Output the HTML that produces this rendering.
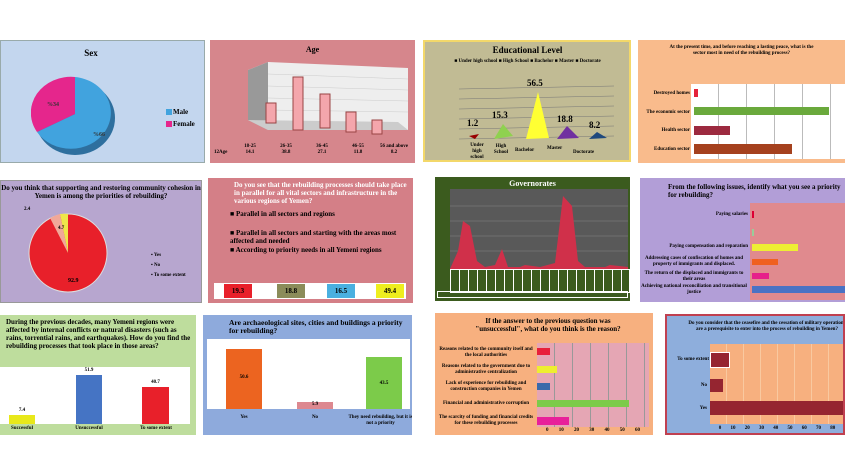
<!DOCTYPE html><html><head><style>
body{margin:0;width:845px;height:475px;background:#fff;position:relative;overflow:hidden;font-family:"Liberation Serif",serif;font-weight:bold}
.p{position:absolute;box-sizing:border-box;overflow:hidden}
.a{position:absolute}
.t{position:absolute;font-size:7px;line-height:8px;text-align:center}
.s{font-size:5px;line-height:6px}
.row{position:absolute;display:flex;font-size:5px;line-height:6px}
.row span{flex:1;text-align:center}
</style></head><body>

<!-- Sex -->
<div class="p" style="left:0;top:40px;width:205px;height:123px;background:#c3d6ee;border:1px solid #9aa">
<div class="t" style="left:0;width:180px;top:8px;font-size:9px">Sex</div>
<svg class="a" style="left:30px;top:35px" width="90" height="82"><ellipse cx="44" cy="42" rx="40" ry="37" fill="#2e6f9e"/><path d="M44,38 L44,1 A40,36 0 1 1 6,56 Z" fill="#41a3de"/><path d="M44,38 L6,56 A40,36 0 0 1 44,1 Z" fill="#e5268c"/>
<text x="16" y="30" font-size="6" fill="#333">%34</text><text x="62" y="60" font-size="6" fill="#333">%66</text></svg>
<div class="a" style="left:165px;top:68px;width:6px;height:6px;background:#41a3de"></div><div class="t" style="left:172px;top:67px;text-align:left">Male</div>
<div class="a" style="left:165px;top:80px;width:6px;height:6px;background:#e5268c"></div><div class="t" style="left:172px;top:79px;text-align:left">Female</div>
</div>

<!-- Age -->
<div class="p" style="left:210px;top:40px;width:205px;height:123px;background:#d6868c">
<div class="t" style="left:0;width:205px;top:6px;font-size:8px">Age</div>
<svg class="a" style="left:28px;top:20px" width="175" height="78"><polygon points="10,10 30,2 170,8 170,70 30,70 10,60" fill="#eee"/><polygon points="10,10 30,2 30,70 10,60" fill="#999"/><polygon points="10,60 30,70 170,70 160,62" fill="#ccc"/>
<g stroke="#ccc" stroke-width=".5"><line x1="30" y1="14" x2="170" y2="19"/><line x1="30" y1="26" x2="170" y2="30"/><line x1="30" y1="38" x2="170" y2="41"/><line x1="30" y1="50" x2="170" y2="52"/></g>
<g fill="#f4a6ac" stroke="#944"><rect x="28" y="43" width="10" height="20"/><rect x="55" y="17" width="10" height="53"/><rect x="82" y="34" width="10" height="34"/><rect x="108" y="52" width="10" height="20"/><rect x="134" y="60" width="10" height="14"/></g></svg>
<div class="row" style="left:22px;width:180px;top:104px"><span>18-25</span><span>26-35</span><span>36-45</span><span>46-55</span><span>56 and above</span></div>
<div class="row" style="left:22px;width:180px;top:110px"><span>14.1</span><span>38.8</span><span>27.1</span><span>11.8</span><span>8.2</span></div>
<div class="t s" style="left:4px;top:110px">12Age</div>
</div>

<!-- Educational -->
<div class="p" style="left:423px;top:40px;width:208px;height:122px;background:#c1bb94;border:2px solid #f3d86a">
<div class="t" style="left:0;width:205px;top:4px;font-size:9px">Educational Level</div>
<div class="t s" style="left:0;width:205px;top:17px">■ Under high school ■ High School ■ Bachelor ■ Master ■ Doctorate</div>
<svg class="a" style="left:14px;top:22px" width="190" height="95"><g stroke="#777" stroke-width=".5"><line x1="20" y1="25" x2="175" y2="22"/><line x1="20" y1="35" x2="175" y2="32"/><line x1="20" y1="45" x2="175" y2="42"/><line x1="20" y1="55" x2="175" y2="52"/><line x1="20" y1="65" x2="175" y2="62"/><line x1="20" y1="75" x2="175" y2="72"/></g>
<polygon points="30,72 40,70 36,75" fill="#900"/><polygon points="55,75 64,60 74,72" fill="#8fd14f"/><polygon points="87,75 99,28 110,74" fill="#ffff33"/><polygon points="118,75 128,62 140,74" fill="#7030a0"/><polygon points="150,75 158,68 168,74" fill="#1f497d"/>
<text x="28" y="62" font-size="9">1.2</text><text x="53" y="54" font-size="9">15.3</text><text x="88" y="22" font-size="9">56.5</text><text x="118" y="58" font-size="9">18.8</text><text x="150" y="64" font-size="9">8.2</text></svg>
<div class="t s" style="left:40px;top:101px;width:24px">Under high school</div><div class="t s" style="left:66px;top:102px;width:20px">High School</div><div class="t s" style="left:90px;top:106px">Bachelor</div><div class="t s" style="left:122px;top:104px">Master</div><div class="t s" style="left:148px;top:108px">Doctorate</div>
</div>

<!-- Sector -->
<div class="p" style="left:638px;top:40px;width:207px;height:123px;background:#f9bb8c">
<div class="t s" style="left:0;width:207px;top:5px">At the present time, and before reaching a lasting peace, what is the<br>sector most in need of the rebuilding process?</div>
<div class="a" style="left:53px;top:44px;width:154px;height:75px;background:#fff;background-image:repeating-linear-gradient(90deg,transparent 0 27px,#bbb 27px 28px)"></div>
<div class="a" style="left:56px;top:49px;width:4px;height:8px;background:#e5233a"></div>
<div class="a" style="left:56px;top:67px;width:135px;height:8px;background:#6aa93c"></div>
<div class="a" style="left:56px;top:86px;width:36px;height:9px;background:#9c2a3f"></div>
<div class="a" style="left:56px;top:104px;width:98px;height:10px;background:#a5411e"></div>
<div class="t s" style="left:0;width:52px;top:51px;text-align:right">Destroyed homes</div>
<div class="t s" style="left:0;width:52px;top:70px;text-align:right">The economic sector</div>
<div class="t s" style="left:0;width:52px;top:88px;text-align:right">Health sector</div>
<div class="t s" style="left:0;width:52px;top:107px;text-align:right">Education sector</div>
</div>

<!-- Cohesion -->
<div class="p" style="left:0;top:180px;width:202px;height:123px;background:#b7a6cf;border:1px solid #999">
<div class="t" style="left:0;width:200px;top:3px">Do you think that supporting and restoring community cohesion in Yemen is among the priorities of rebuilding?</div>
<svg class="a" style="left:27px;top:29px" width="80" height="85"><circle cx="40" cy="43" r="39" fill="#e8202a" stroke="#ddd"/><path d="M40,43 L32,4 A39,39 0 0 1 40,4Z" fill="#eee64a"/><path d="M40,43 L22,8 A39,39 0 0 1 32,4Z" fill="#f1a899"/><text x="40" y="72" font-size="6">92.9</text></svg>
<div class="t s" style="left:23px;top:26px">2.4</div><div class="t s" style="left:57px;top:45px">4.7</div>
<div class="t s" style="left:150px;top:72px;text-align:left">▪ Yes</div><div class="t s" style="left:150px;top:82px;text-align:left">▪ No</div><div class="t s" style="left:150px;top:92px;text-align:left">▪ To some extent</div>
</div>

<!-- Parallel -->
<div class="p" style="left:208px;top:178px;width:205px;height:125px;background:#d47f87">
<div class="t" style="left:26px;top:3px;width:175px;text-align:left;color:#fff">Do you see that the rebuilding processes should take place in parallel for all vital sectors and infrastructure in the various regions of Yemen?</div>
<div class="t" style="left:22px;top:32px;text-align:left">■ Parallel in all sectors and regions</div>
<div class="t" style="left:22px;top:51px;text-align:left;width:180px">■ Parallel in all sectors and starting with the areas most affected and needed</div>
<div class="t" style="left:22px;top:68px;text-align:left">■ According to priority needs in all Yemeni regions</div>
<div class="a" style="left:6px;top:105px;width:192px;height:16px;background:#fff"></div>
<div class="t" style="left:16px;top:106px;width:28px;height:14px;line-height:14px;background:#e8202a">19.3</div>
<div class="t" style="left:69px;top:106px;width:28px;height:14px;line-height:14px;background:#8b8c5a">18.8</div>
<div class="t" style="left:119px;top:106px;width:28px;height:14px;line-height:14px;background:#4ab0e0">16.5</div>
<div class="t" style="left:168px;top:106px;width:28px;height:14px;line-height:14px;background:#eeee1e">49.4</div>
</div>

<!-- Governorates -->
<div class="p" style="left:435px;top:177px;width:195px;height:124px;background:#3b5b1e">
<div class="t" style="left:0;width:195px;top:3px;color:#fff;font-size:8px">Governorates</div>
<div class="a" style="left:15px;top:12px;width:178px;height:92px;background:#595959"></div>
<svg class="a" style="left:15px;top:14px" width="178" height="78"><g stroke="#888" stroke-width=".5"><line x1="0" y1="15" x2="178" y2="15"/><line x1="0" y1="30" x2="178" y2="30"/><line x1="0" y1="45" x2="178" y2="45"/><line x1="0" y1="60" x2="178" y2="60"/></g><path d="M0,78 L8,60 L13,30 L20,35 L27,70 L35,76 L45,74 L52,58 L58,76 L70,76 L75,74 L90,76 L105,72 L113,5 L122,15 L128,70 L135,76 L155,76 L160,74 L178,76 L178,78Z" fill="#d0304a"/></svg>
<div class="a" style="left:15px;top:92px;width:178px;height:22px;border:1px solid #fff;background:repeating-linear-gradient(90deg,#3b5b1e 0 8px,#fff 8px 9px)"></div>
<div class="a" style="left:2px;top:114px;width:191px;height:7px;border:1px solid #fff;box-sizing:border-box"></div>
</div>

<!-- Priority -->
<div class="p" style="left:640px;top:178px;width:205px;height:124px;background:#b29ed7">
<div class="t" style="left:28px;top:5px;width:175px;text-align:left">From the following issues, identify what you see a priority for rebuilding?</div>
<div class="a" style="left:110px;top:25px;width:95px;height:97px;background:#e08a8e"></div>
<div class="a" style="left:112px;top:33px;width:2px;height:7px;background:#d03"></div>
<div class="a" style="left:112px;top:51px;width:2px;height:7px;background:#9c9"></div>
<div class="a" style="left:112px;top:66px;width:46px;height:7px;background:#ee3"></div>
<div class="a" style="left:112px;top:81px;width:26px;height:6px;background:#f06020"></div>
<div class="a" style="left:112px;top:95px;width:17px;height:6px;background:#e6208a"></div>
<div class="a" style="left:112px;top:108px;width:93px;height:7px;background:#4a72c4"></div>
<div class="t s" style="left:0;width:108px;top:34px;text-align:right">Paying salaries</div>
<div class="t s" style="left:0;width:108px;top:66px;text-align:right">Paying compensation and reparation</div>
<div class="t s" style="left:0;width:108px;top:78px">Addressing cases of confiscation of homes and property of immigrants and displaced.</div>
<div class="t s" style="left:0;width:108px;top:93px">The return of the displaced and immigrants to their areas</div>
<div class="t s" style="left:0;width:108px;top:106px">Achieving national reconciliation and transitional justice</div>
</div>

<!-- Decades -->
<div class="p" style="left:0;top:315px;width:196px;height:120px;background:#bedd9d">
<div class="t" style="left:6px;top:3px;width:185px;text-align:left">During the previous decades, many Yemeni regions were affected by internal conflicts or natural disasters (such as rains, torrential rains, and earthquakes). How do you find the rebuilding processes that took place in those areas?</div>
<div class="a" style="left:0;top:52px;width:190px;height:57px;background:#fff"></div>
<div class="a" style="left:9px;top:100px;width:26px;height:9px;background:#e8e81a"></div>
<div class="a" style="left:76px;top:60px;width:26px;height:49px;background:#4574c4"></div>
<div class="a" style="left:142px;top:72px;width:27px;height:37px;background:#e8202a"></div>
<div class="t s" style="left:9px;width:26px;top:93px">7.4</div><div class="t s" style="left:76px;width:26px;top:53px">51.9</div><div class="t s" style="left:142px;width:27px;top:65px">40.7</div>
<div class="t s" style="left:0;width:44px;top:111px">Successful</div><div class="t s" style="left:66px;width:46px;top:111px">Unsuccessful</div><div class="t s" style="left:132px;width:48px;top:111px">To some extent</div>
</div>

<!-- Archaeo -->
<div class="p" style="left:203px;top:315px;width:209px;height:120px;background:#8eaadc">
<div class="t" style="left:26px;top:4px;width:180px;text-align:left;font-size:7.5px">Are archaeological sites, cities and buildings a priority for rebuilding?</div>
<div class="a" style="left:4px;top:24px;width:203px;height:70px;background:#fff"></div>
<div class="a" style="left:23px;top:34px;width:36px;height:60px;background:#ec6420"></div>
<div class="a" style="left:94px;top:87px;width:36px;height:7px;background:#dd8890"></div>
<div class="a" style="left:163px;top:42px;width:36px;height:52px;background:#7ccb4a"></div>
<div class="t s" style="left:23px;width:36px;top:60px">50.6</div><div class="t s" style="left:94px;width:36px;top:87px">5.9</div><div class="t s" style="left:163px;width:36px;top:66px">43.5</div>
<div class="t s" style="left:23px;width:36px;top:100px">Yes</div><div class="t s" style="left:94px;width:36px;top:100px">No</div><div class="t s" style="left:145px;width:65px;top:100px">They need rebuilding, but it is not a priority</div>
</div>

<!-- Unsuccessful -->
<div class="p" style="left:435px;top:313px;width:218px;height:122px;background:#f7b07f">
<div class="t" style="left:28px;top:4px;width:170px">If the answer to the previous question was "unsuccessful", what do you think is the reason?</div>
<div class="a" style="left:102px;top:30px;width:112px;height:84px;background:#e5a6b4;background-image:repeating-linear-gradient(90deg,transparent 0 17px,#999 17px 18px)"></div>
<div class="a" style="left:102px;top:35px;width:13px;height:7px;background:#e8203a"></div>
<div class="a" style="left:102px;top:53px;width:20px;height:7px;background:#eeee30"></div>
<div class="a" style="left:102px;top:70px;width:13px;height:7px;background:#3a6aaa"></div>
<div class="a" style="left:102px;top:87px;width:92px;height:7px;background:#7ccb4a"></div>
<div class="a" style="left:102px;top:104px;width:32px;height:8px;background:#e8209a"></div>
<div class="t s" style="left:2px;width:98px;top:34px">Reasons related to the community itself and the local authorities</div>
<div class="t s" style="left:2px;width:98px;top:51px">Reasons related to the government due to administrative centralization</div>
<div class="t s" style="left:2px;width:98px;top:68px">Lack of experience for rebuilding and construction companies in Yemen</div>
<div class="t s" style="left:2px;width:98px;top:88px">Financial and administrative corruption</div>
<div class="t s" style="left:2px;width:98px;top:102px">The scarcity of funding and financial credits for these rebuilding processes</div>
<div class="t s" style="left:98px;width:120px;top:115px;word-spacing:9px">0 10 20 30 40 50 60</div>
</div>

<!-- Ceasefire -->
<div class="p" style="left:665px;top:314px;width:180px;height:121px;background:#8eaedc;border:2px solid #c04050">
<div class="t s" style="left:20px;top:5px;width:160px">Do you consider that the ceasefire and the cessation of military operations are a prerequisite to enter into the process of rebuilding in Yemen?</div>
<div class="a" style="left:43px;top:28px;width:135px;height:80px;background:#f7b07f;background-image:repeating-linear-gradient(90deg,transparent 0 16px,#f9c9a0 16px 17px)"></div>
<div class="a" style="left:43px;top:36px;width:18px;height:14px;background:#952530;border:1px solid #fff"></div>
<div class="a" style="left:43px;top:63px;width:13px;height:13px;background:#952530"></div>
<div class="a" style="left:43px;top:85px;width:135px;height:14px;background:#952530"></div>
<div class="t s" style="left:0;width:42px;top:41px;text-align:right">To some extent</div><div class="t s" style="left:0;width:40px;top:67px;text-align:right">No</div><div class="t s" style="left:0;width:40px;top:90px;text-align:right">Yes</div>
<div class="t s" style="left:40px;width:140px;top:110px;word-spacing:8px">0 10 20 30 40 50 60 70 80</div>
</div>
</body></html>
